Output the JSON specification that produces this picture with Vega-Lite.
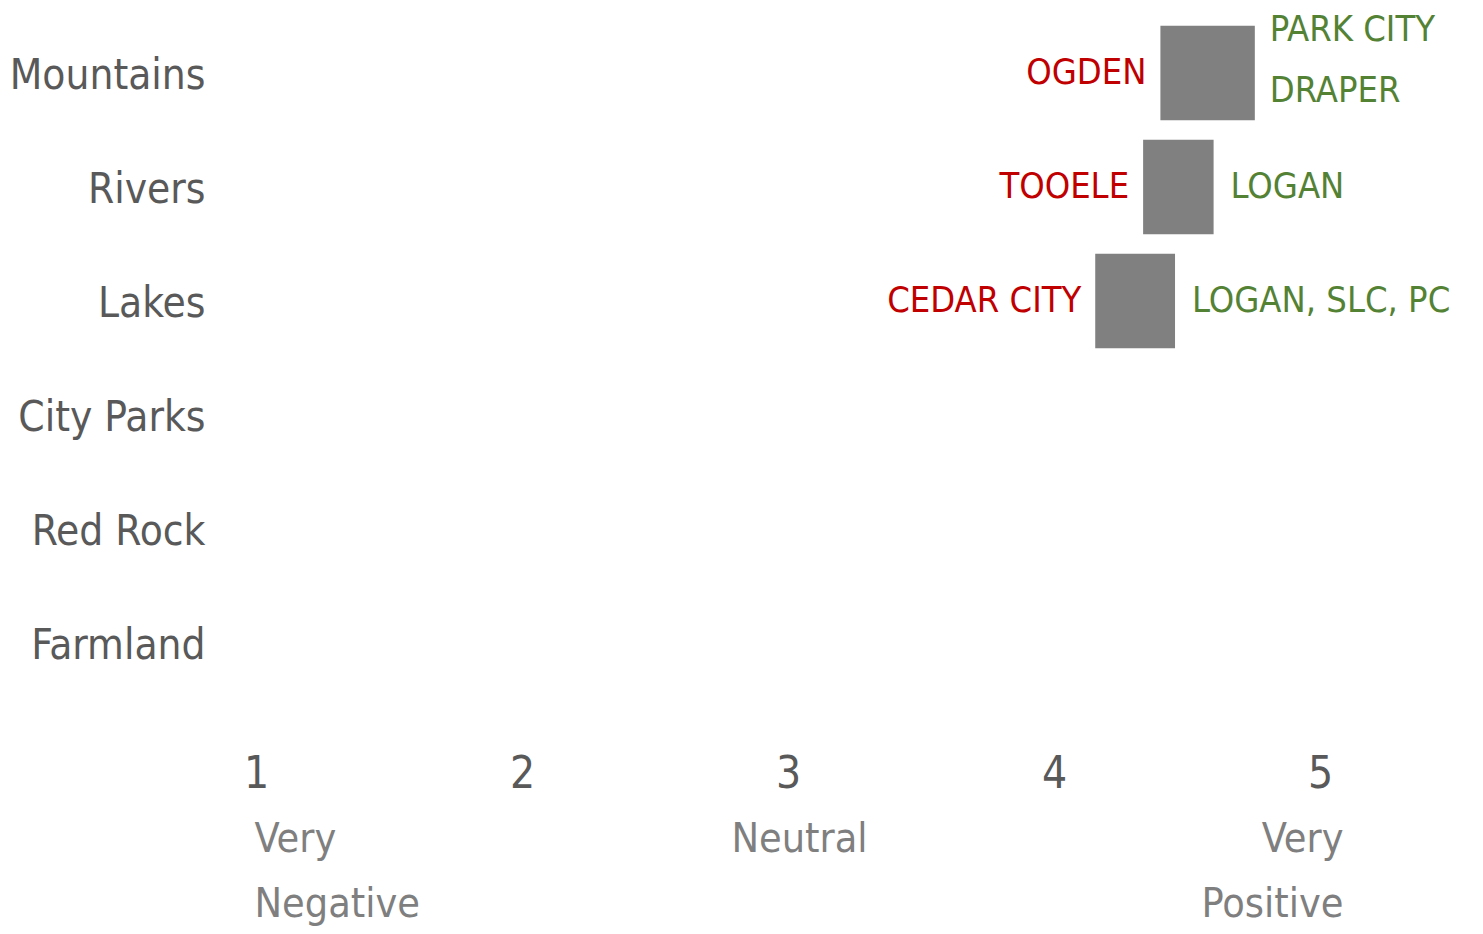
{
  "$schema": "https://vega.github.io/schema/vega-lite/v6.json",
  "autosize": {"type": "none"},
  "padding": {"left": 256, "top": 16, "right": 30, "bottom": 234},
  "width": 1197,
  "height": 684,
  "background": "white",
  "config": {
    "view": {"stroke": null},
    "font": "DejaVu Sans Condensed",
    "text": {"font": "DejaVu Sans Condensed"}
  },
  "data": {
    "values": [
      {"category": "Mountains", "low": 4.40, "high": 4.755, "neg": "OGDEN", "pos": "PARK CITY\nDRAPER"},
      {"category": "Rivers", "low": 4.335, "high": 4.60, "neg": "TOOELE", "pos": "LOGAN"},
      {"category": "Lakes", "low": 4.155, "high": 4.455, "neg": "CEDAR CITY", "pos": "LOGAN, SLC, PC"}
    ]
  },
  "encoding": {
    "y": {
      "field": "category",
      "type": "nominal",
      "scale": {
        "domain": ["Mountains", "Rivers", "Lakes", "City Parks", "Red Rock", "Farmland"],
        "paddingInner": 0.17,
        "paddingOuter": 0.085
      },
      "axis": {
        "title": null,
        "domain": false,
        "ticks": false,
        "tickSize": 0,
        "labelPadding": 51,
        "labelFontSize": 42,
        "labelLimit": 0,
        "labelOffset": 3,
        "labelColor": "#595959",
        "labelFont": "DejaVu Sans Condensed"
      }
    }
  },
  "layer": [
    {
      "mark": {"type": "bar", "color": "#808080"},
      "encoding": {
        "x": {
          "field": "low",
          "type": "quantitative",
          "scale": {"domain": [1, 5.5], "nice": false, "zero": false},
          "axis": {
            "orient": "bottom",
            "title": null,
            "domain": false,
            "ticks": false,
            "tickSize": 0,
            "grid": false,
            "values": [1, 2, 3, 4, 5],
            "labelPadding": 52,
            "labelFontSize": 44,
            "labelLimit": 0,
            "labelColor": "#595959",
            "labelFont": "DejaVu Sans Condensed",
            "labelFlush": false
          }
        },
        "x2": {"field": "high"}
      }
    },
    {
      "mark": {"type": "text", "align": "right", "baseline": "middle", "dx": -14, "dy": 0, "fontSize": 36, "color": "#C00000"},
      "encoding": {
        "x": {
          "field": "low",
          "type": "quantitative",
          "axis": {
            "orient": "bottom",
            "title": null,
            "domain": false,
            "ticks": false,
            "tickSize": 0,
            "grid": false,
            "values": [1, 3, 5],
            "labelExpr": "datum.value == 1 ? ['Very', 'Negative'] : datum.value == 3 ? 'Neutral' : ['Very', 'Positive']",
            "labelPadding": 119,
            "labelFontSize": 41,
            "labelLineHeight": 65,
            "labelLimit": 0,
            "labelColor": "#7f7f7f",
            "labelFont": "DejaVu Sans Condensed",
            "labelFlush": false,
            "labelOverlap": false,
            "labelAlign": {
              "condition": [
                {"test": "datum.value == 1", "value": "left"},
                {"test": "datum.value == 5", "value": "right"}
              ],
              "value": "center"
            },
            "labelOffset": {
              "condition": [
                {"test": "datum.value == 1", "value": -2},
                {"test": "datum.value == 5", "value": 23}
              ],
              "value": 11
            }
          }
        },
        "text": {"field": "neg"}
      }
    },
    {
      "transform": [{"filter": "indexof(datum.pos, '\\n') < 0"}],
      "mark": {"type": "text", "align": "left", "baseline": "middle", "dx": 17, "dy": 0, "fontSize": 36, "color": "#548235"},
      "encoding": {
        "x": {"field": "high", "type": "quantitative", "axis": null},
        "text": {"field": "pos"}
      }
    },
    {
      "transform": [{"filter": "indexof(datum.pos, '\\n') >= 0"}],
      "mark": {"type": "text", "align": "left", "baseline": "middle", "dx": 15, "dy": -43, "fontSize": 36, "color": "#548235", "lineBreak": "\n", "lineHeight": 61},
      "encoding": {
        "x": {"field": "high", "type": "quantitative", "axis": null},
        "text": {"field": "pos"}
      }
    }
  ],
  "resolve": {"axis": {"x": "independent"}}
}
